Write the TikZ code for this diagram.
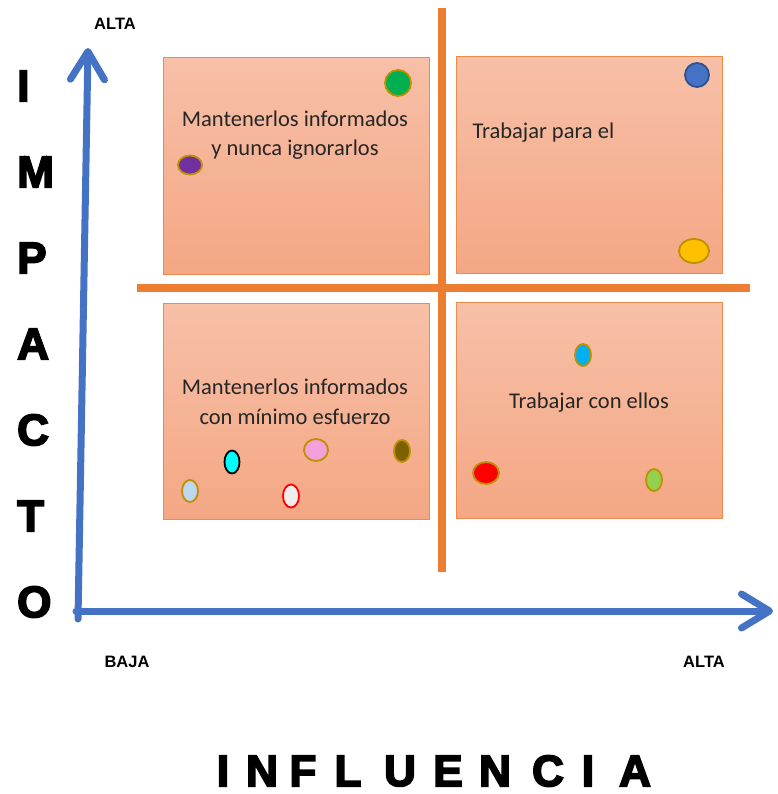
\documentclass[tikz,border=0pt]{standalone}
\usepackage{fontspec}
\setmainfont{Carlito}
\newfontfamily\gruesa{Liberation Sans}[FakeBold=4]
\newfontfamily\rotulo{Liberation Sans}
\usetikzlibrary{arrows.meta,shapes.geometric}

\definecolor{ejeazul}{HTML}{4472C4}
\definecolor{naranja}{HTML}{ED7D31}
\definecolor{cajaarriba}{HTML}{F7C0A8}
\definecolor{cajaabajo}{HTML}{F4A784}
\definecolor{cajaborde}{HTML}{F08A4B}
\definecolor{dorado}{HTML}{BF9000}
\definecolor{azuloscuro}{HTML}{2F528F}
\definecolor{verde}{HTML}{00B050}
\definecolor{morado}{HTML}{7030A0}
\definecolor{amarillo}{HTML}{FFC000}
\definecolor{turquesa}{HTML}{00FFFF}
\definecolor{celeste}{HTML}{BDD7EE}
\definecolor{rosa}{HTML}{F4A0DC}
\definecolor{oliva}{HTML}{7F6000}
\definecolor{blanco}{HTML}{EDEDED}
\definecolor{cielo}{HTML}{00B0F0}
\definecolor{rojo}{HTML}{FF0000}
\definecolor{verdeclaro}{HTML}{92D050}

\tikzset{
  eje/.style={line width=7pt, ejeazul, line cap=round,
    -{Straight Barb[length=28pt, width=34pt, round]}},
  division/.style={line width=8pt, naranja},
  cuadro/.style={rectangle, draw=cajaborde, line width=1pt,
    top color=cajaarriba, bottom color=cajaabajo,
    minimum width=266pt, minimum height=216pt, inner sep=0pt},
  texto/.style={font=\fontsize{22.5}{29.5}\selectfont, text=black!85, align=center},
  letra/.style={font=\gruesa\bfseries\fontsize{44}{44}\selectfont, inner sep=0pt},
  nivel/.style={font=\rotulo\bfseries\fontsize{16.5}{18}\selectfont},
  punto/.style={ellipse, line width=1.8pt, inner sep=0pt}
}

\begin{document}
\begin{tikzpicture}[x=1pt, y=-1pt]
  \useasboundingbox (0,0) rectangle (777,794);

  % cuadros de la matriz
  \node[cuadro] (cajaA) at (296,166) {};
  \node[cuadro] (cajaB) at (589,165) {};
  \node[cuadro] (cajaC) at (296,411) {};
  \node[cuadro] (cajaD) at (589,410) {};

  % lineas divisorias
  \coordinate (divarriba) at (442,8);
  \coordinate (divabajo) at (442,572);
  \coordinate (divizq) at (137,288);
  \coordinate (divder) at (750,288);
  \draw[division] (divarriba) -- (divabajo);
  \draw[division] (divizq) -- (divder);

  % ejes
  \coordinate (origenV) at (78,619);
  \coordinate (puntaV) at (88,48);
  \coordinate (origenH) at (76,611);
  \coordinate (puntaH) at (773,611);
  \draw[eje] (origenV) -- (puntaV);
  \draw[eje] (origenH) -- (puntaH);

  % textos de los cuadros
  \node[texto] (txtA) at (295,135) {Mantenerlos informados\\y nunca ignorarlos};
  \node[texto, anchor=west] (txtB) at (469,133) {Trabajar para el};
  \node[texto] (txtC) at (295,402) {Mantenerlos informados\\con mínimo esfuerzo};
  \node[texto] (txtD) at (589,403) {Trabajar con ellos};

  % interesados
  \foreach \n/\x/\y/\w/\h/\c/\b in {
      1/398/83/26/26/verde/dorado, 2/190/165/24/19/morado/dorado,
      3/697/75/24/24/ejeazul/azuloscuro, 4/694/251/30/24/amarillo/dorado,
      5/232/462/15/23/turquesa/black, 6/190/491/16/22/celeste/dorado,
      7/316/450/24/22/rosa/dorado, 8/402/451/16/22/oliva/dorado,
      9/291/496/16/23/blanco/rojo, 10/583/355/16/22/cielo/dorado,
      11/486/473/26/22/rojo/dorado, 12/654/480/16/22/verdeclaro/dorado}
    \node[punto, fill=\c, draw=\b, minimum width=\w pt, minimum height=\h pt] (p\n) at (\x,\y) {};

  % rotulos de los ejes
  \node[nivel] (altaV) at (115,24) {ALTA};
  \node[nivel] (bajaH) at (127,662) {BAJA};
  \node[nivel] (altaH) at (704,662) {ALTA};

  \foreach \l [count=\i from 0] in {I,M,P,A,C,T,O}
    \node[letra, anchor=west] (imp\i) at (17,86+86*\i) {\l};

  \foreach \l/\x [count=\i] in {I/223, N/262, F/303, L/348, U/400, E/448, N/495, C/548, I/588, A/635}
    \node[letra] (inf\i) at (\x,771) {\l};
\end{tikzpicture}
\end{document}
